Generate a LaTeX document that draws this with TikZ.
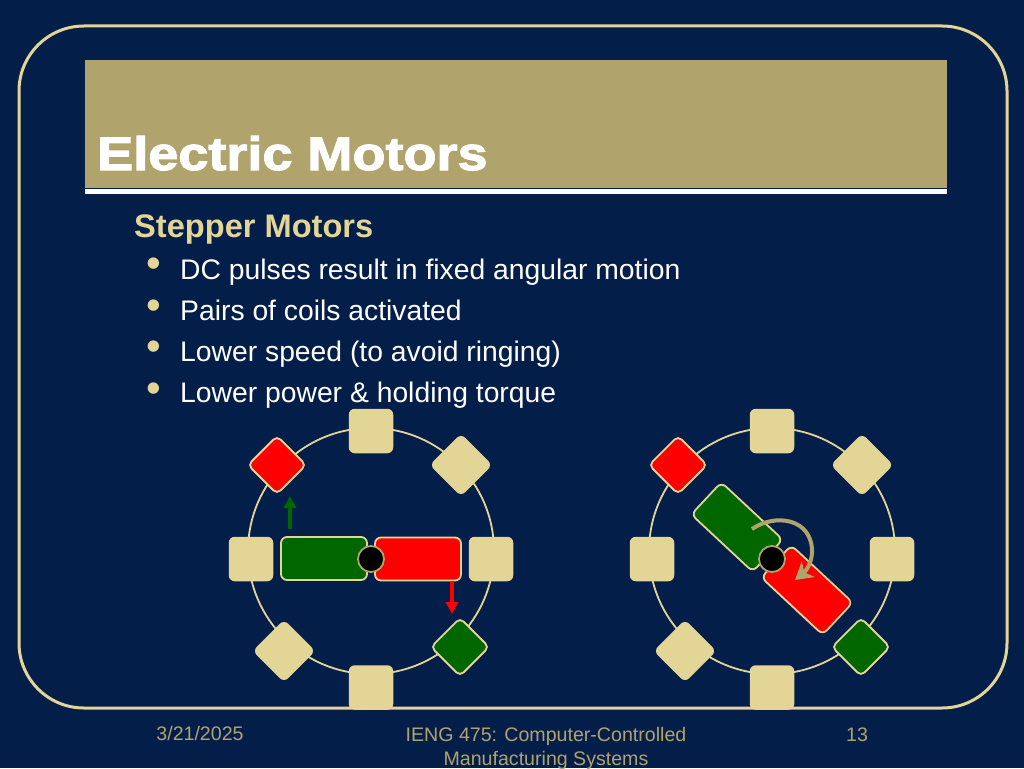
\documentclass[tikz,border=0pt]{standalone}
\usepackage{fontspec}
\setmainfont{Liberation Sans}
\usetikzlibrary{arrows.meta}
\definecolor{navy}{HTML}{041E4A}
\definecolor{sand}{HTML}{E3D596}
\definecolor{khaki}{HTML}{B0A36C}
\definecolor{coilgreen}{HTML}{006600}
\newfontfamily\titlefont[FakeBold=2.4,FakeStretch=1.15]{Liberation Sans Bold}
\begin{document}
\begin{tikzpicture}
	  [
	    x = 1pt,
	    y = -1pt,
	    every node/.style = {inner sep=0pt},
	    textline/.style   = {anchor=base west, font=\fontsize{28.3}{30}\selectfont, text=white},
	    dotmark/.style    = {anchor=center, font=\fontsize{42}{42}\selectfont, text=sand},
	    footer/.style     = {anchor=base, font=\fontsize{19.6}{21}\selectfont, text=khaki},
	    stator/.style     = {fill=sand, rounded corners=6pt, minimum size=44.5pt},
	    coil/.style       = {draw=sand, line width=1.8pt, rounded corners=5pt, minimum size=41pt, rotate=45},
	    rotor/.style      = {draw=sand, line width=1.8pt, rounded corners=6pt, minimum width=86pt, minimum height=43pt},
	    hub/.style        = {circle, draw=khaki, line width=1.8pt, fill=black, minimum size=26pt},
	    ring/.style       = {circle, draw=sand, line width=1.8pt, minimum size=246pt}
		]
		\useasboundingbox (0,0) rectangle (1024,768);
		\fill[navy] (0,0) rectangle (1024,768);
		\draw[sand, line width=3pt, rounded corners=65pt] (19,26) rectangle (1007,708);
		\fill[khaki] (85,60) rectangle (947,188);
		\fill[white] (85,189) rectangle (947,193.5);
		\node[anchor=base west, font=\fontsize{47}{50}\titlefont, text=white] (title) at (97,170) {Electric Motors};
		\node[anchor=base west, font=\fontsize{32.6}{34}\selectfont\bfseries, text=sand] (heading) at (134,237) {Stepper Motors};
		\node[textline] (pulses) at (180,279) {DC pulses result in fixed angular motion};
		\node[textline] (pairs) at (180,320) {Pairs of coils activated};
		\node[textline] (speed) at (180,361) {Lower speed (to avoid ringing)};
		\node[textline] (power) at (180,402) {Lower power \& holding torque};
		\node[dotmark] (dota) at (154,268) {•};
		\node[dotmark] (dotb) at (154,310) {•};
		\node[dotmark] (dotc) at (154,351) {•};
		\node[dotmark] (dotd) at (154,393) {•};
		\node[footer] (date) at (200,740) {3/21/2025};
		\node[footer, align=center, anchor=north] (course) at (546,727) {IENG 475: Computer-Controlled\\[3pt]Manufacturing Systems};
		\node[footer] (page) at (857,741) {13};
		% the two motors
		\foreach \m/\cx in {l/371,r/772}{
			\node[ring] (ring\m) at (\cx,551) {};
			\node[stator] (top\m) at (\cx,431) {};
			\node[stator] (bottom\m) at (\cx,687.5) {};
			\node[stator] (west\m) at (\cx-120,559) {};
			\node[stator] (east\m) at (\cx+120,559) {};
			\node[stator, rotate=45] (ne\m) at (\cx+90,465) {};
			\node[stator, rotate=45] (sw\m) at (\cx-87,651) {};
			\node[coil, fill=red] (nw\m) at (\cx-94,465) {};
			\node[coil, fill=coilgreen] (se\m) at (\cx+89,647) {};
		}
		\node[rotor, fill=coilgreen] (armgreenl) at (324,558.5) {};
		\node[rotor, fill=red] (armredl) at (418,559) {};
		\node[hub] (hubl) at (371,559) {};
		\node[rotor, fill=coilgreen, rotate=-43, minimum width=84pt, minimum height=44pt] (armgreenr) at (737,527) {};
		\node[rotor, fill=red, rotate=-43, minimum width=84pt, minimum height=44pt] (armredr) at (807,590) {};
		\node[hub] (hubr) at (772,559) {};
		\coordinate (greenfrom) at (290,529);
		\coordinate (greento) at (290,496);
		\coordinate (redfrom) at (452,581);
		\coordinate (redto) at (452,614);
		\draw[coilgreen, line width=4pt, -{Stealth[length=12pt, width=12pt, inset=0pt]}] (greenfrom) -- (greento);
		\draw[red, line width=4pt, -{Stealth[length=12pt, width=12pt, inset=0pt]}] (redfrom) -- (redto);
		\coordinate (turnfrom) at (752,529);
		\coordinate (turnto) at (795,580);
		\draw[khaki, line width=4pt, -{Stealth[length=17pt, width=20pt, inset=5pt]}] (turnfrom) .. controls (775,513) and (813,518) .. (812,553) .. controls (811.5,563) and (806,571) .. (turnto);
	\end{tikzpicture}
\end{document}
